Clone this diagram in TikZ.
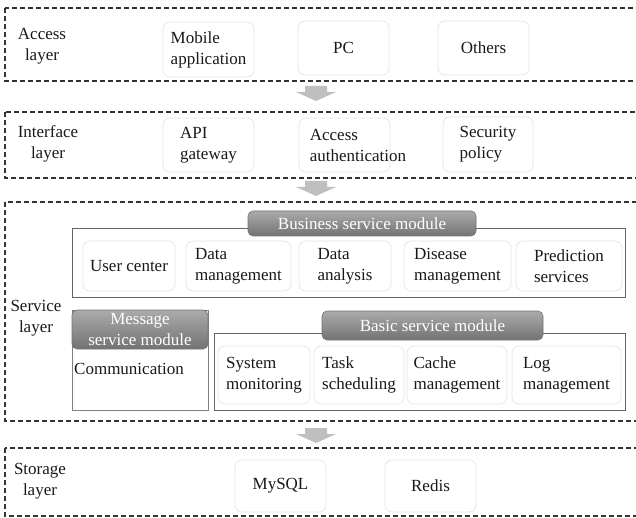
\documentclass[tikz,border=0pt]{standalone}
\usepackage{fontspec}
\setmainfont{Liberation Serif}

\begin{document}
\begin{tikzpicture}[x=1pt,y=-1pt,
    txt/.style={font=\fontsize{17}{21}\selectfont, text=black!90, inner sep=0pt},
    layerbox/.style={draw=black!80, dash pattern=on 5pt off 3pt, line width=1.1pt},
    modbox/.style={draw=black!60, line width=0.8pt},
    item/.style={txt, draw=black!10, line width=0.7pt, rounded corners=7pt, fill=white, align=left},
    title/.style={txt, text=white, draw=black!55, line width=0.6pt, rounded corners=5pt,
        top color=black!33, bottom color=black!55, align=center},
    arrowfill/.style={fill=black!25}]
    \useasboundingbox (0,0) rectangle (636,518);
    \clip (0,0) rectangle (636,518);
    % layers
    \draw[layerbox] (5,8) rectangle (650,81);
    \draw[layerbox] (5,112) rectangle (650,178);
    \draw[layerbox] (5,202) rectangle (650,421);
    \draw[layerbox] (5,448) rectangle (650,516);
    % flow between layers
    \foreach \y in {86,181,428}
        \fill[arrowfill] (305,\y) -- (327,\y) -- (327,\y+6) -- (336,\y+6) -- (316,\y+15)
            -- (296,\y+6) -- (305,\y+6) -- cycle;

    % access layer
    \node[txt, align=center] (acclbl) at (42,46) {Access\\layer};
    \node[item, minimum width=91pt, minimum height=55pt] (mobile) at (208.5,49.5) {Mobile\\application};
    \node[item, minimum width=91pt, minimum height=54pt] (pc) at (343.5,48) {PC};
    \node[item, minimum width=91pt, minimum height=54pt] (others) at (483.5,48) {Others};

    % interface layer
    \node[txt, align=center] (ifclbl) at (48,144) {Interface\\layer};
    \node[item, minimum width=91pt, minimum height=54pt] (apigw) at (208.5,145) {API\\gateway};
    \node[item, minimum width=91pt, minimum height=54pt] (auth) at (344.5,145) {};
    \node[txt, anchor=west, align=left] (authtxt) at ([xshift=11pt]auth.west) {Access\\authentication};
    \node[item, minimum width=90pt, minimum height=55pt] (secpol) at (488,144.5) {Security\\policy};

    % service layer
    \node[txt, align=center] (svclbl) at (36,318) {Service\\layer};
    \draw[modbox] (72,228) rectangle (625,297);
    \node[title, minimum width=228pt, minimum height=25pt] (bizttl) at (362,223.5) {Business service module};
    \node[item, minimum width=92pt, minimum height=50pt] (user) at (129,266) {User center};
    \node[item, minimum width=105pt, minimum height=50pt] (datamgmt) at (238.5,266) {Data\\management};
    \node[item, minimum width=92pt, minimum height=50pt] (analysis) at (345,266) {Data\\analysis};
    \node[item, minimum width=107pt, minimum height=50pt] (disease) at (457.5,266) {Disease\\management};
    \node[item, minimum width=106pt, minimum height=50pt] (predict) at (569,266) {Prediction\\services};

    \draw[modbox, draw=black!50] (72,310) rectangle (208,410);
    \node[title, minimum width=136pt, minimum height=39pt] (msgttl) at (140,329.5) {Message\\service module};
    \node[txt, anchor=west] (comm) at (74,369) {Communication};

    \draw[modbox] (214,333) rectangle (625,410);
    \node[title, minimum width=221pt, minimum height=29pt] (basttl) at (432.5,325.5) {Basic service module};
    \node[item, minimum width=92pt, minimum height=58pt] (sysmon) at (264,375) {System\\monitoring};
    \node[item, minimum width=90pt, minimum height=58pt] (tasks) at (359,375) {Task\\scheduling};
    \node[item, minimum width=100pt, minimum height=58pt] (cache) at (457,375) {Cache\\management};
    \node[item, minimum width=109pt, minimum height=58pt] (logmgmt) at (566.5,375) {Log\\management};

    % storage layer
    \node[txt, align=center] (stolbl) at (40,481) {Storage\\layer};
    \node[item, minimum width=91pt, minimum height=52pt] (mysql) at (280.5,486) {MySQL};
    \node[item, minimum width=91pt, minimum height=52pt] (redis) at (430.5,486) {Redis};
\end{tikzpicture}
\end{document}
